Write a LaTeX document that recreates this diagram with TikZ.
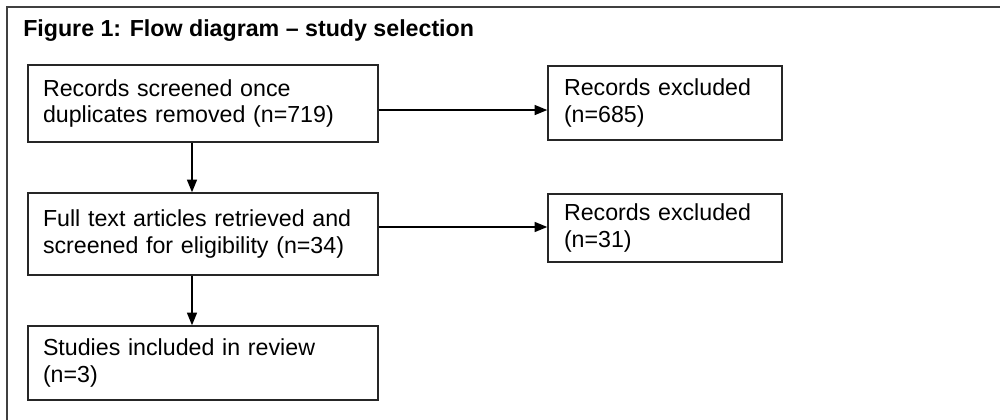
\documentclass[tikz,border=0pt]{standalone}
\usepackage{fontspec}
\setmainfont{Liberation Sans}
\usetikzlibrary{arrows.meta}
\tikzset{
  box/.style={draw=black!85, line width=1.1pt, rectangle, align=left,
    font=\fontsize{17.4pt}{20.2pt}\selectfont, inner ysep=0pt},
  leftbox/.style={box, text width=240pt, inner xsep=11.25pt, minimum width=262.5pt},
  rightbox/.style={box, text width=151.5pt, inner xsep=12pt, minimum width=175.5pt},
  arr/.style={draw=black, line width=1.1pt, -{Triangle[length=9.5pt,width=7.5pt]}},
  frameline/.style={draw=black!75, line width=1.5pt},
}
\begin{document}
\begin{tikzpicture}[x=0.75pt,y=-0.75pt]
\useasboundingbox (0,0) rectangle (1000,420);
\draw[frameline] (7,421) -- (7,7) -- (1001,7);
\node[anchor=base west, font=\fontsize{17.4pt}{20.2pt}\selectfont\bfseries, inner sep=0pt] (title) at (23,37) {Figure 1: Flow diagram -- study selection};
\node[leftbox, minimum height=57.75pt] (A) at (203,103.5) {Records screened once\\duplicates removed (n=719)};
\node[rightbox, minimum height=55.5pt] (E1) at (665,103) {Records excluded\\(n=685)};
\node[leftbox, minimum height=61.5pt] (B) at (203,234) {Full text articles retrieved and\\screened for eligibility (n=34)};
\node[rightbox, minimum height=51pt] (E2) at (665,228) {Records excluded\\(n=31)};
\node[leftbox, minimum height=55.5pt] (C) at (203,363) {Studies included in review\\(n=3)};
\draw[arr] ([yshift=-4.9pt]A.east) -- ([yshift=-4.9pt]A.east -| E1.west);
\draw[arr] ([yshift=5.25pt]B.east) -- ([yshift=5.25pt]B.east -| E2.west);
\draw[arr] ([xshift=-8.25pt]A.south) -- ([xshift=-8.25pt]A.south |- B.north);
\draw[arr] ([xshift=-8.25pt]B.south) -- ([xshift=-8.25pt]B.south |- C.north);
\end{tikzpicture}
\end{document}
